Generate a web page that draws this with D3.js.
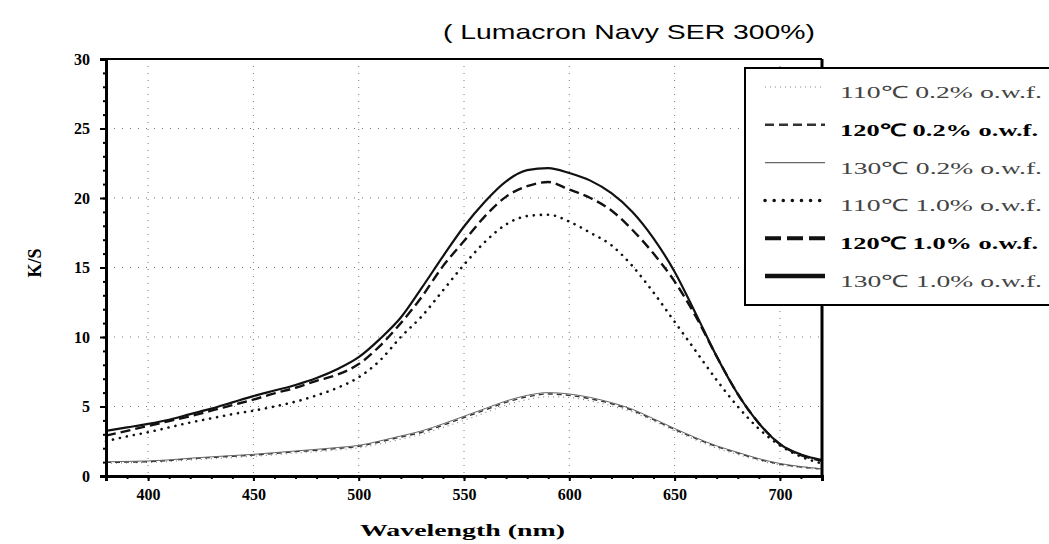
<!DOCTYPE html>
<html>
<head>
<meta charset="utf-8">
<script src="https://cdn.jsdelivr.net/npm/d3@7"></script>
<style>
  body { margin: 0; background: #fff; }
  svg { display: block; }
</style>
</head>
<body>
<div id="chart"></div>
<script>
// wavelength grid (nm)
const wavelengths = [380, 390, 400, 410, 420, 430, 440, 450, 460, 470, 480, 490, 500, 510, 520, 530, 540, 550,
  560, 570, 580, 590, 600, 610, 620, 630, 640, 650, 660, 670, 680, 690, 700, 710, 720];

// K/S values
const ks110_02 = [0.9, 0.95, 0.98, 1.05, 1.15, 1.25, 1.33, 1.42, 1.52, 1.65, 1.75, 1.88, 2.02, 2.3, 2.65, 3.0, 3.5, 4.0,
  4.55, 5.1, 5.5, 5.7, 5.65, 5.4, 5.05, 4.6, 3.95, 3.25, 2.6, 2.0, 1.55, 1.12, 0.8, 0.6, 0.45];
const ks120_02 = [0.98, 1.0, 1.03, 1.12, 1.24, 1.33, 1.42, 1.5, 1.62, 1.75, 1.85, 1.98, 2.13, 2.45, 2.8, 3.15, 3.65, 4.2,
  4.75, 5.3, 5.7, 5.9, 5.8, 5.55, 5.2, 4.72, 4.05, 3.35, 2.7, 2.12, 1.65, 1.2, 0.85, 0.65, 0.5];
const ks130_02 = [1.02, 1.05, 1.08, 1.16, 1.28, 1.38, 1.47, 1.56, 1.68, 1.8, 1.92, 2.05, 2.2, 2.52, 2.88, 3.25, 3.75, 4.3,
  4.85, 5.4, 5.8, 6.0, 5.9, 5.65, 5.28, 4.8, 4.12, 3.42, 2.76, 2.17, 1.7, 1.25, 0.9, 0.68, 0.52];
const ks110_10 = [2.5, 2.85, 3.15, 3.5, 3.85, 4.15, 4.45, 4.7, 5.0, 5.35, 5.8, 6.35, 7.1, 8.3, 10.0, 11.5, 13.35, 15.2,
  16.85, 18.1, 18.7, 18.8, 18.3, 17.5, 16.6, 15.1, 13.2, 11.1, 9.0, 6.9, 5.0, 3.4, 2.2, 1.4, 0.9];
const ks120_10 = [2.9, 3.25, 3.6, 3.95, 4.3, 4.7, 5.1, 5.5, 5.95, 6.35, 6.85, 7.3, 8.05, 9.35, 11.0, 12.9, 15.1, 16.9,
  18.7, 20.1, 20.85, 21.15, 20.6, 20.0, 19.1, 17.7, 16.0, 14.0, 11.5, 8.6, 5.9, 3.8, 2.3, 1.5, 1.1];
const ks130_10 = [3.25, 3.5, 3.75, 4.05, 4.45, 4.85, 5.3, 5.75, 6.15, 6.55, 7.05, 7.7, 8.55, 9.85, 11.4, 13.55, 15.8, 17.95,
  19.75, 21.2, 22.0, 22.15, 21.8, 21.25, 20.35, 19.0, 17.1, 14.7, 11.7, 8.6, 5.9, 3.8, 2.3, 1.55, 1.15];

const seriesLabels = ['110\u2103  0.2% o.w.f.', '120\u2103  0.2% o.w.f.', '130\u2103  0.2% o.w.f.',
  '110\u2103  1.0% o.w.f.', '120\u2103  1.0% o.w.f.', '130\u2103  1.0% o.w.f.'];
const xTicks = [400, 450, 500, 550, 600, 650, 700];
const yTicks = [0, 5, 10, 15, 20, 25, 30];

const title = '( Lumacron Navy SER 300%)';

const width = 1049;
const height = 544;

const svg = d3.select('#chart')
  .append('svg')
  .attr('width', width)
  .attr('height', height);

const x = d3.scaleLinear().domain([380, 720]).range([106, 822]);
const y = d3.scaleLinear().domain([0, 30]).range([476, 59]);

// grid
const grid = svg.append('g');
grid.selectAll('.vg')
  .data(xTicks)
  .enter()
  .append('line')
  .attr('x1', d => x(d)).attr('x2', d => x(d))
  .attr('y1', y(30)).attr('y2', y(0))
  .attr('stroke', '#777')
  .attr('stroke-width', 1)
  .attr('stroke-dasharray', '1,6');
grid.selectAll('.hg')
  .data(yTicks.filter(d => d > 0 && d < 30))
  .enter()
  .append('line')
  .attr('x1', x(380)).attr('x2', x(720))
  .attr('y1', d => y(d)).attr('y2', d => y(d))
  .attr('stroke', '#777')
  .attr('stroke-width', 1)
  .attr('stroke-dasharray', '1,7');

// curves
const styles = [
  { color: '#888', width: 1.2, dash: '1,4', cap: 'butt' },
  { color: '#333', width: 1.4, dash: '5,4', cap: 'butt' },
  { color: '#666', width: 1.0, dash: null, cap: 'butt' },
  { color: '#111', width: 2.6, dash: '0.1,7', cap: 'round' },
  { color: '#111', width: 2.4, dash: '10,5', cap: 'butt' },
  { color: '#111', width: 2.2, dash: null, cap: 'butt' }
];
const allSeries = [ks110_02, ks120_02, ks130_02, ks110_10, ks120_10, ks130_10];

const line = d3.line()
  .x((d, i) => x(wavelengths[i]))
  .y(d => y(d))
  .curve(d3.curveMonotoneX);

const lines = svg.append('g');
allSeries.forEach((vals, i) => {
  lines.append('path')
    .datum(vals)
    .attr('d', line)
    .attr('fill', 'none')
    .attr('stroke', styles[i].color)
    .attr('stroke-width', styles[i].width)
    .attr('stroke-linecap', styles[i].cap)
    .attr('stroke-dasharray', styles[i].dash);
});

// frame
svg.append('line').attr('x1', x(380)).attr('x2', x(720)).attr('y1', y(30)).attr('y2', y(30))
  .attr('stroke', '#000').attr('stroke-width', 2);
svg.append('line').attr('x1', x(720)).attr('x2', x(720)).attr('y1', y(30)).attr('y2', y(0))
  .attr('stroke', '#000').attr('stroke-width', 3);

// axes
const xAxis = d3.axisBottom(x).tickValues(xTicks).tickSize(5).tickPadding(8);
const xMinor = d3.axisBottom(x).ticks(34).tickSize(3).tickFormat('');
const yAxis = d3.axisLeft(y).tickValues(yTicks).tickSize(6).tickPadding(10);
const yMinor = d3.axisLeft(y).ticks(30).tickSize(3).tickFormat('');

const gxm = svg.append('g').attr('transform', `translate(0,${y(0)})`).call(xMinor);
const gx = svg.append('g').attr('transform', `translate(0,${y(0)})`).call(xAxis);
const gym = svg.append('g').attr('transform', `translate(${x(380)},0)`).call(yMinor);
const gy = svg.append('g').attr('transform', `translate(${x(380)},0)`).call(yAxis);

[gx, gy, gxm, gym].forEach(g => {
  g.select('.domain').attr('stroke', '#000').attr('stroke-width', 3);
  g.selectAll('.tick line').attr('stroke', '#000').attr('stroke-width', 2);
});
[gx, gy].forEach(g => {
  g.selectAll('.tick text')
    .attr('font-family', 'Liberation Serif, serif')
    .attr('font-weight', 'bold')
    .attr('font-size', 16)
    .attr('fill', '#000');
});

// titles
svg.append('text')
  .attr('x', 443)
  .attr('y', 39)
  .attr('textLength', 372)
  .attr('lengthAdjust', 'spacingAndGlyphs')
  .attr('font-family', 'Liberation Sans, Arial, sans-serif')
  .attr('font-size', 21)
  .text(title);

svg.append('text')
  .attr('transform', 'translate(41,263) rotate(-90)')
  .attr('text-anchor', 'middle')
  .attr('font-family', 'Liberation Serif, serif')
  .attr('font-weight', 'bold')
  .attr('font-size', 18)
  .text('K/S');

svg.append('text')
  .attr('x', 360)
  .attr('y', 536)
  .attr('textLength', 205)
  .attr('lengthAdjust', 'spacingAndGlyphs')
  .attr('font-family', 'Liberation Serif, serif')
  .attr('font-weight', 'bold')
  .attr('font-size', 17)
  .text('Wavelength (nm)');

// legend
const legend = svg.append('g');
legend.append('rect')
  .attr('x', 745).attr('y', 68)
  .attr('width', 330).attr('height', 237)
  .attr('fill', '#fff')
  .attr('stroke', '#000')
  .attr('stroke-width', 2);

const rowY = d3.scalePoint().domain(d3.range(6)).range([93, 282]);
const legendWidths = [1.2, 2.4, 1.2, 3.5, 4, 4.5];
seriesLabels.forEach((lab, i) => {
  const bold = i === 1 || i === 4;
  legend.append('line')
    .attr('x1', 765).attr('x2', 825)
    .attr('y1', rowY(i) - 6).attr('y2', rowY(i) - 6)
    .attr('stroke', styles[i].color)
    .attr('stroke-width', legendWidths[i])
    .attr('stroke-linecap', styles[i].cap)
    .attr('stroke-dasharray', i === 3 ? '0.1,9' : (i === 4 ? '16,6' : (i === 1 ? '9,5' : styles[i].dash)));
  legend.append('text')
    .attr('x', 840)
    .attr('y', rowY(i) + 5)
    .attr('textLength', bold ? 198 : 202)
    .attr('lengthAdjust', 'spacingAndGlyphs')
    .attr('font-family', 'Liberation Serif, serif')
    .attr('font-weight', bold ? 'bold' : 'normal')
    .attr('font-size', 17)
    .attr('fill', bold ? '#000' : '#444')
    .text(lab);
});
</script>
</body>
</html>
